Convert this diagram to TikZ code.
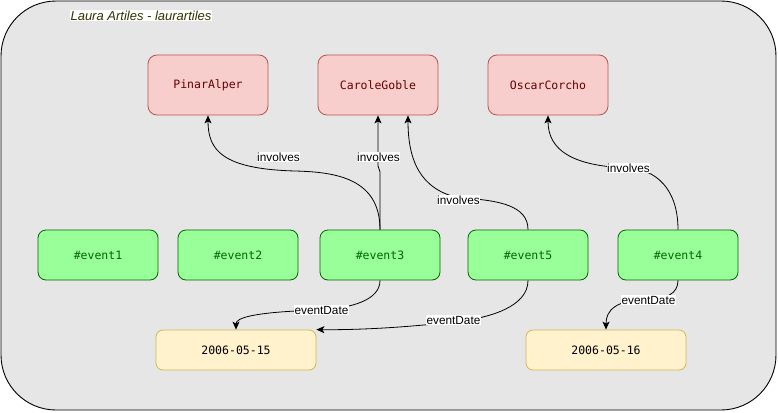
\documentclass[tikz,border=0pt]{standalone}
\usepackage{fontspec}
\setmainfont{Liberation Sans}
\newfontfamily\boxmono{DejaVu Sans Mono}
\usetikzlibrary{arrows.meta}
\definecolor{outerfill}{HTML}{E6E6E6}
\definecolor{redfill}{HTML}{F8CECC}
\definecolor{redline}{HTML}{B85450}
\definecolor{redtext}{HTML}{660000}
\definecolor{greenfill}{HTML}{99FF99}
\definecolor{greenline}{HTML}{006600}
\definecolor{greentext}{HTML}{006600}
\definecolor{yelfill}{HTML}{FFF2CC}
\definecolor{yelline}{HTML}{D6B656}
\definecolor{titletext}{HTML}{333300}
\begin{document}
\begin{tikzpicture}[x=1pt,y=-1pt,
  person/.style={draw=redline, fill=redfill, rounded corners=9pt, minimum width=120pt, minimum height=60pt, text=redtext, font=\boxmono\fontsize{11.5}{13}\selectfont, line width=0.8pt},
  eventbox/.style={draw=greenline, fill=greenfill, rounded corners=8pt, minimum width=120pt, minimum height=50pt, text=greentext, font=\boxmono\fontsize{11.5}{13}\selectfont, line width=0.8pt},
  datebox/.style={draw=yelline, fill=yelfill, rounded corners=7pt, minimum width=160pt, minimum height=40pt, text=black, font=\boxmono\fontsize{11.5}{13}\selectfont, line width=0.8pt},
  lbl/.style={fill=white, inner sep=0.6pt, font=\fontsize{11.8}{13}\selectfont},
  conn/.style={draw=black, line width=0.8pt, -{Stealth[length=8pt,width=7pt,inset=2pt]}}
]
\useasboundingbox (0,0) rectangle (778,412);
\draw[fill=outerfill, rounded corners=55pt, line width=0.9pt] (1,1) rectangle (776,410);
\node[fill=white, inner sep=0.8pt, text=titletext, font=\itshape\fontsize{13}{14}\selectfont] (title) at (141,15.5) {Laura Artiles - laurartiles};

\node[person] (pinar) at (208,85) {PinarAlper};
\node[person] (carole) at (378,85) {CaroleGoble};
\node[person] (oscar) at (548,85) {OscarCorcho};

\node[eventbox] (e1) at (98,255) {\#event1};
\node[eventbox] (e2) at (238,255) {\#event2};
\node[eventbox] (e3) at (380,255) {\#event3};
\node[eventbox] (e5) at (528,255) {\#event5};
\node[eventbox] (e4) at (678,255) {\#event4};

\node[datebox] (d1) at (236,350) {2006-05-15};
\node[datebox] (d2) at (606,350) {2006-05-16};

% involves
\draw[conn] (e3.north) .. controls (380,178) and (335,172) .. (295,171) .. controls (222,169) and (208,150) .. (pinar.south);
\draw[conn] (e3.north) -- (380,172) -- (378,166) -- (carole.south);
\draw[conn] (e5.north) .. controls (528,206) and (500,200) .. (460,198) .. controls (420,190) and (408,160) .. ([xshift=30pt]carole.south);
\draw[conn] (e4.north) .. controls (678,188) and (655,169) .. (628,168) .. controls (572,166) and (548,150) .. (oscar.south);
% eventDate
\draw[conn] (e3.south) .. controls (380,300) and (352,308) .. (320,310) .. controls (252,312) and (236,318) .. (d1.north);
\draw[conn] (e5.south) .. controls (528,306) and (492,318) .. (453,322) .. controls (400,328) and (355,330) .. (d1.north east);
\draw[conn] (e4.south) .. controls (678,294) and (666,299) .. (648,299) .. controls (616,300) and (606,310) .. (d2.north);

\node[lbl] (l1) at (278.5,157) {involves};
\node[lbl] (l2) at (378.5,157) {involves};
\node[lbl] (l3) at (458.5,200) {involves};
\node[lbl] (l4) at (628.5,168) {involves};
\node[lbl] (l5) at (321.5,310) {eventDate};
\node[lbl] (l6) at (453.5,320) {eventDate};
\node[lbl] (l7) at (648.5,300) {eventDate};
\end{tikzpicture}
\end{document}
